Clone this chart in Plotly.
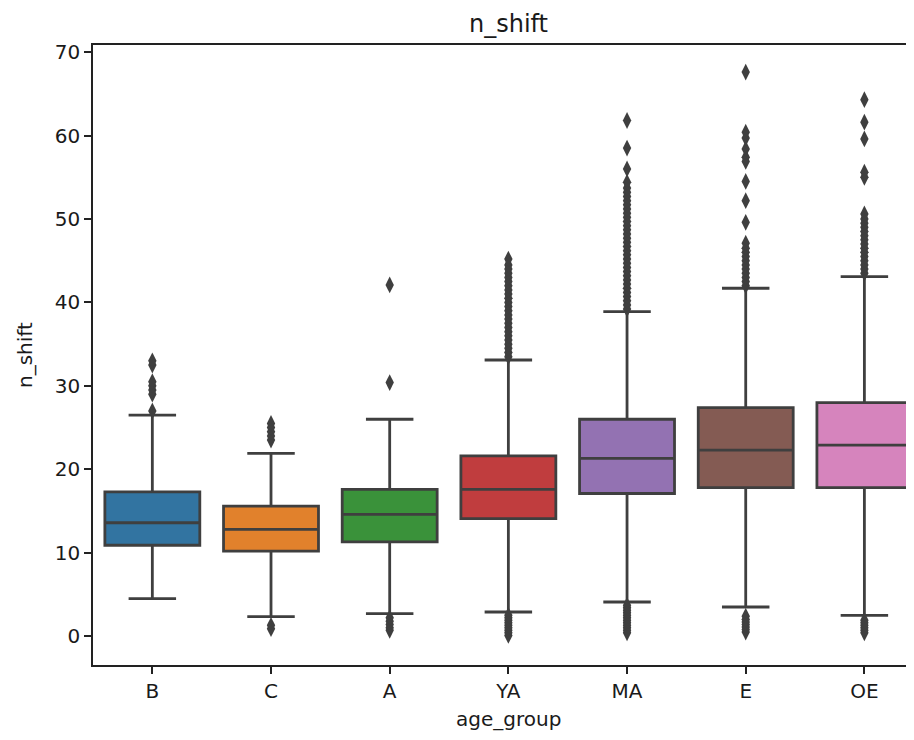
import plotly.graph_objects as go

categories = ["B", "C", "A", "YA", "MA", "E", "OE"]
q1 = [10.9, 10.2, 11.3, 14.1, 17.1, 17.8, 17.8]
median = [13.6, 12.8, 14.6, 17.6, 21.3, 22.3, 22.9]
q3 = [17.3, 15.6, 17.6, 21.6, 26.0, 27.4, 28.0]
lower_whisker = [4.5, 2.35, 2.7, 2.9, 4.1, 3.5, 2.5]
upper_whisker = [26.5, 21.9, 26.0, 33.1, 38.9, 41.7, 43.1]

outliers_B = [27.0, 29.0, 29.5, 30.0, 30.5, 32.5, 33.0]
outliers_C = [0.9, 1.3, 23.5, 24.0, 24.5, 25.0, 25.5]
outliers_A = [0.7, 1.0, 1.4, 1.8, 2.2, 30.4, 42.1]
outliers_YA = [0.1, 0.4, 0.7, 1.0, 1.3, 1.6, 1.9, 2.2, 2.5,
               33.5, 34.0, 34.5, 35.0, 35.5, 36.0, 36.5, 37.0, 37.5, 38.0,
               38.5, 39.0, 39.5, 40.0, 40.5, 41.0, 41.5, 42.0, 42.5, 43.0,
               43.5, 44.0, 44.5, 45.2]
outliers_MA = [0.4, 0.7, 1.0, 1.3, 1.6, 1.9, 2.2, 2.5, 2.8, 3.1, 3.4, 3.7,
               39.2, 39.7, 40.2, 40.7, 41.2, 41.7, 42.2, 42.7, 43.2, 43.7,
               44.2, 44.7, 45.2, 45.7, 46.2, 46.7, 47.2, 47.7, 48.2, 48.7,
               49.2, 49.7, 50.2, 50.7, 51.2, 51.7, 52.2, 52.7, 53.2, 53.7,
               54.4, 56.0, 58.5, 61.8]
outliers_E = [0.5, 0.8, 1.1, 1.4, 1.7, 2.0, 2.4,
              42.0, 42.5, 43.0, 43.5, 44.0, 44.5, 45.0, 45.5, 46.0, 46.5, 47.1,
              49.6, 52.2, 54.5, 56.9, 57.4, 58.4, 59.7, 60.4, 67.6]
outliers_OE = [0.4, 0.7, 1.0, 1.3, 1.6, 1.9,
               43.5, 44.0, 44.5, 45.0, 45.5, 46.0, 46.5, 47.0, 47.5, 48.0,
               48.5, 49.0, 49.5, 50.0, 50.6, 55.0, 55.6, 59.6, 61.6, 64.3]
outliers = [outliers_B, outliers_C, outliers_A, outliers_YA,
            outliers_MA, outliers_E, outliers_OE]

colors = ["#3274a1", "#e1812c", "#3a923a", "#c03d3e",
          "#9372b2", "#845b53", "#d684bd"]
edge = "#3f3f3f"

fig = go.Figure()
for i, cat in enumerate(categories):
    fig.add_trace(go.Box(
        x=[i], q1=[q1[i]], median=[median[i]], q3=[q3[i]],
        lowerfence=[lower_whisker[i]], upperfence=[upper_whisker[i]],
        width=0.8, whiskerwidth=0.5, fillcolor=colors[i],
        line=dict(color=edge, width=2.8), boxpoints=False,
        name=cat, showlegend=False, hoverinfo="skip",
    ))
    fig.add_trace(go.Scatter(
        x=[i] * len(outliers[i]), y=outliers[i], mode="markers",
        marker=dict(symbol="diamond-tall", size=12, color=edge,
                    line=dict(width=0)),
        showlegend=False, hoverinfo="skip",
    ))

font = "DejaVu Sans, sans-serif"
fig.update_layout(
    width=906, height=732,
    margin=dict(l=85, r=0, t=37, b=75),
    plot_bgcolor="white", paper_bgcolor="white",
    font=dict(family=font, size=20, color="#1a1a1a"),
    xaxis=dict(
        range=[-0.5, 6.418], tickmode="array",
        tickvals=list(range(len(categories))), ticktext=categories,
        showline=True, linecolor="#222222", linewidth=1.6, mirror=True,
        ticks="outside", ticklen=7, tickcolor="#222222", tickwidth=1.5,
        showgrid=False, zeroline=False,
        tickfont=dict(size=20, family=font),
    ),
    yaxis=dict(
        range=[-3.45, 70.85], tickmode="array",
        tickvals=[0, 10, 20, 30, 40, 50, 60, 70],
        showline=True, linecolor="#222222", linewidth=1.6,
        ticks="outside", ticklen=7, tickcolor="#222222", tickwidth=1.5,
        showgrid=False, zeroline=False,
        tickfont=dict(size=20, family=font),
    ),
    annotations=[
        dict(text="n_shift", x=3, xref="x", y=1, yref="paper",
             yanchor="middle", yshift=21, showarrow=False,
             font=dict(size=24, family=font)),
        dict(text="age_group", x=3, xref="x", y=0, yref="paper",
             yanchor="middle", yshift=-54, showarrow=False,
             font=dict(size=20, family=font)),
        dict(text="n_shift", x=0, xref="paper", y=0.5, yref="paper",
             xanchor="center", yanchor="middle", xshift=-68, textangle=-90,
             showarrow=False, font=dict(size=20, family=font)),
    ],
)

fig.write_html("out.html")
